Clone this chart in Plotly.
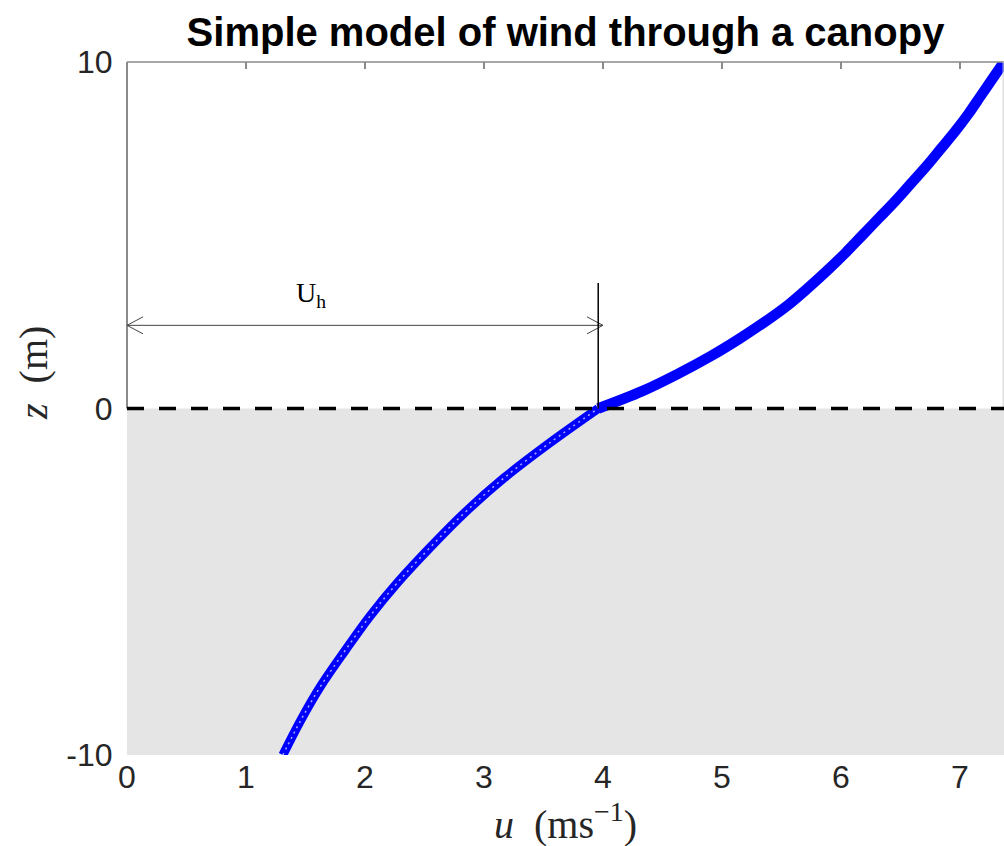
import plotly.graph_objects as go

# ---- data ----
z_canopy = [-10, -9, -8, -7, -6, -5, -4, -3, -2, -1, 0]
u_canopy = [1.31, 1.46, 1.63, 1.83, 2.04, 2.28, 2.55, 2.84, 3.17, 3.55, 3.96]
z_above = [0, 0.5, 1, 1.5, 2, 2.5, 3, 3.5, 4, 4.5, 5, 5.5, 6, 6.5, 7, 7.5, 8, 8.5, 9, 9.5, 10]
u_above = [3.96, 4.33, 4.63, 4.90, 5.14, 5.36, 5.56, 5.73, 5.89, 6.04, 6.18, 6.32, 6.46,
           6.59, 6.72, 6.84, 6.96, 7.07, 7.17, 7.27, 7.37]

x_ticks = [0, 1, 2, 3, 4, 5, 6, 7]
y_ticks = [-10, 0, 10]
y_tick_text = ["-10", "0", "10"]

u_max = 7.37          # right limit of the u axis
z_min, z_max = -10, 10
u_h = 3.96            # wind speed at canopy top
arrow_end = 4.0
arrow_z = 2.4
marker_top_z = 3.62
label_u, label_z = 1.55, 3.3

# ---- geometry helpers (pixel -> data) ----
W, H = 1004, 846
L, R, T, B = 127, 0, 62, 91
px_u = (W - L - R) / u_max
px_z = (H - T - B) / (z_max - z_min)
chev_du = 16 / px_u
chev_dz = 8.5 / px_z

AX = "#262626"
SPINE = "#8a8a8a"
BLUE = "rgb(0,0,255)"

fig = go.Figure()

fig.add_trace(go.Scatter(
    x=u_canopy, y=z_canopy, mode="lines",
    line=dict(color=BLUE, width=9, shape="spline"),
    hoverinfo="skip", showlegend=False))
fig.add_trace(go.Scatter(
    x=u_canopy, y=z_canopy, mode="lines",
    line=dict(color="#a8a8ff", width=1.5, shape="spline", dash="2px,4px"),
    hoverinfo="skip", showlegend=False))
fig.add_trace(go.Scatter(
    x=u_above, y=z_above, mode="lines", xaxis="x2",
    line=dict(color=BLUE, width=10.5, shape="spline"),
    hoverinfo="skip", showlegend=False))

shapes = []
# canopy (grey patch)
shapes.append(dict(type="rect", xref="x", yref="y", x0=0, x1=u_max, y0=z_min, y1=0,
                   fillcolor="#e5e5e5", line=dict(width=0), layer="below"))
# box lines above the canopy
shapes.append(dict(type="line", xref="paper", yref="paper", x0=0, x1=1, y0=1, y1=1,
                   line=dict(color=SPINE, width=1.5)))
shapes.append(dict(type="line", xref="paper", yref="y", x0=0, x1=0, y0=0, y1=z_max,
                   line=dict(color=SPINE, width=2)))
shapes.append(dict(type="line", xref="paper", yref="y", x0=0.999, x1=0.999, y0=0, y1=z_max,
                   line=dict(color="#d0d0d0", width=1)))
# canopy top dashed line
shapes.append(dict(type="line", xref="x", yref="y", x0=0, x1=u_max, y0=0, y1=0,
                   line=dict(color="black", width=3.5, dash="17px,15px")))
# U_h dimension arrow
shapes.append(dict(type="line", xref="x", yref="y", x0=0, x1=arrow_end, y0=arrow_z, y1=arrow_z,
                   line=dict(color="#444444", width=1)))
shapes.append(dict(type="path", xref="x", yref="y",
                   path=f"M {chev_du} {arrow_z + chev_dz} L 0 {arrow_z} L {chev_du} {arrow_z - chev_dz}",
                   line=dict(color="#444444", width=1)))
shapes.append(dict(type="path", xref="x", yref="y",
                   path=f"M {arrow_end - chev_du} {arrow_z + chev_dz} L {arrow_end} {arrow_z} L {arrow_end - chev_du} {arrow_z - chev_dz}",
                   line=dict(color="#444444", width=1)))
shapes.append(dict(type="line", xref="x", yref="y", x0=u_h, x1=u_h, y0=0, y1=marker_top_z,
                   line=dict(color="black", width=1.5)))

plot_w = W - L - R
plot_h = H - T - B
annotations = [
    dict(text="U<sub>h</sub>", x=label_u, y=label_z, xref="x", yref="y",
         showarrow=False, font=dict(family="Liberation Serif", size=28, color="black")),
    dict(text="<i>u</i>\u00a0 (ms<sup>\u22121</sup>)", x=0.5, y=-(821 - (H - B)) / plot_h,
         xref="paper", yref="paper", xanchor="center", yanchor="middle", showarrow=False,
         font=dict(family="Liberation Serif", size=40, color=AX)),
    dict(text="<i>z</i>\u00a0 (m)", x=(33 - L) / plot_w, y=(H - B - 373) / plot_h,
         xref="paper", yref="paper", xanchor="center", yanchor="middle",
         showarrow=False, textangle=-90,
         font=dict(family="Liberation Serif", size=40, color=AX)),
]

fig.update_layout(
    width=W, height=H,
    margin=dict(l=L, r=R, t=T, b=B, pad=0),
    paper_bgcolor="white", plot_bgcolor="white",
    title=dict(text="<b>Simple model of wind through a canopy</b>",
               x=(L + plot_w / 2) / W, xanchor="center",
               y=1 - 32 / H, yanchor="middle", yref="container",
               font=dict(family="Liberation Sans", size=40, color="black")),
    xaxis=dict(range=[0, u_max], tickvals=x_ticks, ticks="",
               showgrid=False, zeroline=False, showline=False,
               tickfont=dict(family="Liberation Sans", size=32, color=AX)),
    xaxis2=dict(range=[0, u_max], overlaying="x", side="top", tickvals=x_ticks[1:],
                ticks="inside", ticklen=7, tickcolor=SPINE, tickwidth=1.5,
                showticklabels=False, showgrid=False, zeroline=False, showline=False),
    yaxis=dict(range=[z_min, z_max], tickvals=y_ticks, ticktext=y_tick_text,
               ticks="outside", ticklen=7, tickcolor="rgba(0,0,0,0)",
               showgrid=False, zeroline=False, showline=False,
               tickfont=dict(family="Liberation Sans", size=32, color=AX)),
    shapes=shapes,
    annotations=annotations,
)

fig.write_html("out.html", config={"displayModeBar": False},
               post_script="document.body.style.margin='0';document.body.style.overflow='hidden';")
